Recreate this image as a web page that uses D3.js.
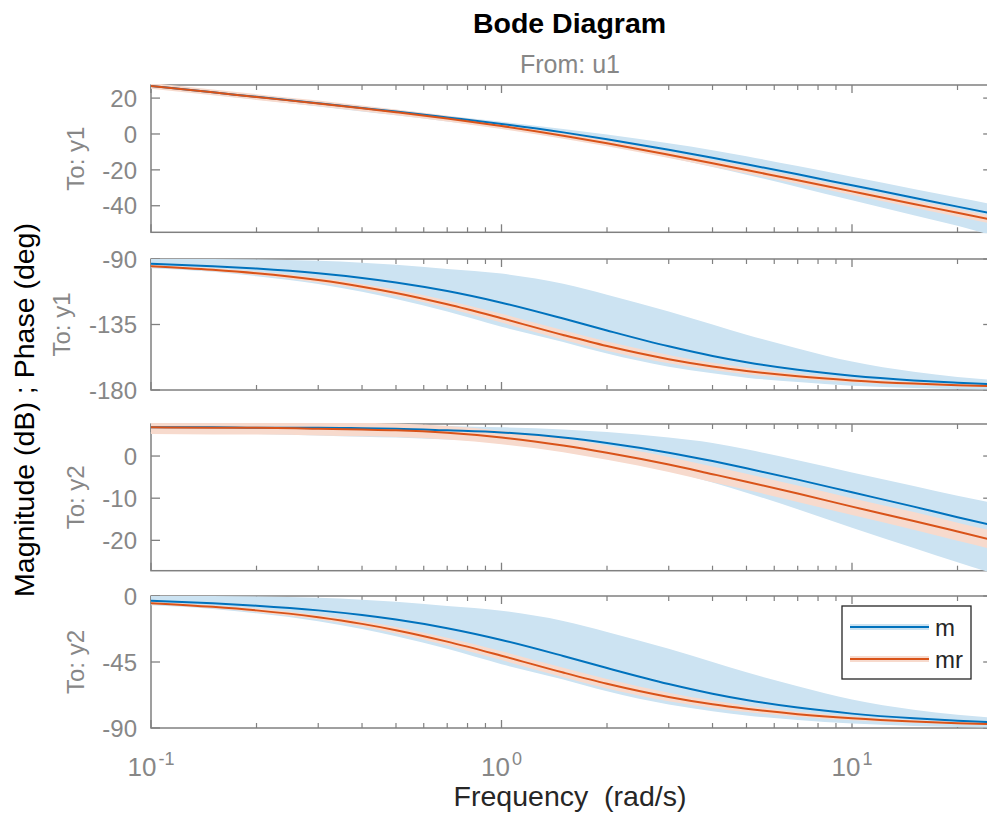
<!DOCTYPE html>
<html>
<head>
<meta charset="utf-8">
<script src="https://cdn.jsdelivr.net/npm/d3@7"></script>
<style>
  html, body { margin: 0; padding: 0; background: #fff; }
  svg { display: block; }
  text { font-family: "Liberation Sans", Arial, Helvetica, sans-serif; }
</style>
</head>
<body>
<svg id="chart" width="987" height="815"></svg>
<script>
// ---------------- data ----------------
const freq = [0.1, 0.15, 0.2, 0.3, 0.4, 0.5, 0.7, 1, 1.5, 2, 3, 4, 5, 7, 10, 15, 20, 25.12];
const xTickLabels = [{v: 0.1, base: "10", exp: "-1"}, {v: 1, base: "10", exp: "0"}, {v: 10, base: "10", exp: "1"}];
const seriesNames = ["m", "mr"];

// To: y1 magnitude (dB)
const magY1_m    = [26.8, 23.2, 20.7, 17.1, 14.5, 12.5, 9.2, 5.6, 0.9, -2.9, -8.8, -13.3, -16.9, -22.5, -28.6, -35.5, -40.5, -44.4];
const magY1_mHi  = [27.8, 24.2, 21.7, 18.1, 15.5, 13.5, 10.2, 6.8, 2.8, -0.3, -5.2, -9.0, -12.4, -17.9, -23.9, -30.6, -35.4, -39.1];
const magY1_mLo  = [25.6, 21.9, 19.2, 15.3, 12.5, 10.4, 7.0, 3.2, -2.0, -6.4, -13.1, -18.4, -22.7, -29.5, -37.0, -45.3, -51.2, -56.5];
const magY1_mr   = [26.8, 23.2, 20.6, 17.0, 14.3, 12.1, 8.6, 4.4, -1.0, -5.2, -11.6, -16.3, -20.1, -25.8, -32.0, -39.0, -43.9, -47.9];
const magY1_mrHi = [28.4, 24.8, 22.2, 18.6, 15.9, 13.7, 10.2, 6.0, 0.7, -3.5, -9.8, -14.5, -18.2, -23.9, -30.0, -36.9, -41.8, -45.7];
const magY1_mrLo = [25.2, 21.6, 19.0, 15.4, 12.7, 10.5, 7.0, 2.8, -2.7, -6.9, -13.4, -18.2, -22.0, -27.8, -34.0, -41.1, -46.1, -50.1];

// To: y1 phase (deg)
const phY1_m    = [-93.3, -95.0, -96.6, -99.8, -103.0, -106.1, -112.0, -120.0, -130.9, -139.1, -150.0, -156.6, -160.9, -166.1, -170.2, -173.4, -175.0, -176.1];
const phY1_mHi  = [-90.0, -90.0, -90.4, -91.2, -92.5, -94.0, -96.8, -100.0, -107.0, -114.5, -126.0, -135.0, -142.0, -151.5, -160.5, -167.5, -171.0, -173.0];
const phY1_mLo  = [-96.3, -98.8, -101.8, -107.2, -112.5, -117.5, -126.0, -136.5, -147.0, -155.0, -164.0, -168.5, -171.5, -174.5, -177.0, -178.6, -179.3, -179.7];
const phY1_mr   = [-94.9, -97.4, -99.8, -104.5, -109.0, -113.3, -121.1, -130.7, -142.2, -149.8, -158.8, -163.8, -166.9, -170.6, -173.4, -175.6, -176.7, -177.4];
const phY1_mrHi = [-94.1, -96.4, -98.6, -102.9, -107.1, -111.1, -118.5, -127.7, -139.0, -146.6, -155.9, -161.3, -164.7, -168.9, -172.1, -174.7, -176.0, -176.8];
const phY1_mrLo = [-95.7, -98.4, -101.0, -106.1, -110.9, -115.5, -123.7, -133.7, -145.4, -153.0, -161.7, -166.3, -169.1, -172.3, -174.7, -176.5, -177.4, -178.0];

// To: y2 magnitude (dB)
const magY2_m    = [6.8, 6.8, 6.7, 6.7, 6.6, 6.5, 6.1, 5.6, 4.4, 3.1, 0.8, -1.2, -2.9, -5.6, -8.6, -12.0, -14.5, -16.4];
const magY2_mHi  = [7.8, 7.8, 7.7, 7.7, 7.6, 7.5, 7.1, 6.8, 6.3, 5.7, 4.4, 3.1, 1.6, -1.0, -3.9, -7.1, -9.4, -11.1];
const magY2_mLo  = [5.6, 5.5, 5.2, 4.9, 4.6, 4.4, 3.9, 3.2, 1.5, -0.4, -3.5, -6.3, -8.7, -12.6, -17.0, -21.8, -25.2, -27.8];
const magY2_mr   = [6.8, 6.7, 6.7, 6.5, 6.3, 6.1, 5.5, 4.4, 2.5, 0.8, -2.0, -4.3, -6.1, -8.9, -12.0, -15.4, -17.9, -19.9];
const magY2_mrHi = [8.4, 8.3, 8.3, 8.1, 7.9, 7.7, 7.1, 6.0, 4.2, 2.5, -0.2, -2.5, -4.2, -7.0, -10.0, -13.3, -15.8, -17.7];
const magY2_mrLo = [5.2, 5.1, 5.1, 4.9, 4.7, 4.5, 3.9, 2.8, 0.9, -0.9, -3.8, -6.2, -8.0, -10.9, -14.0, -17.5, -20.1, -22.1];

// To: y2 phase (deg)
const phY2_m    = [-3.3, -5.0, -6.6, -9.8, -13.0, -16.1, -22.0, -30.0, -40.9, -49.1, -60.0, -66.6, -70.9, -76.1, -80.2, -83.4, -85.0, -86.1];
const phY2_mHi  = [0.0, 0.0, -0.4, -1.2, -2.5, -4.0, -6.8, -10.0, -17.0, -24.5, -36.0, -45.0, -52.0, -61.5, -70.5, -77.5, -81.0, -83.0];
const phY2_mLo  = [-6.3, -8.8, -11.8, -17.2, -22.5, -27.5, -36.0, -46.5, -57.0, -65.0, -74.0, -78.5, -81.5, -84.5, -87.0, -88.6, -89.3, -89.7];
const phY2_mr   = [-4.9, -7.4, -9.8, -14.5, -19.0, -23.3, -31.1, -40.7, -52.2, -59.8, -68.8, -73.8, -76.9, -80.6, -83.4, -85.6, -86.7, -87.4];
const phY2_mrHi = [-4.1, -6.4, -8.6, -12.9, -17.1, -21.1, -28.5, -37.7, -49.0, -56.6, -65.9, -71.3, -74.7, -78.9, -82.1, -84.7, -86.0, -86.8];
const phY2_mrLo = [-5.7, -8.4, -11.0, -16.1, -20.9, -25.5, -33.7, -43.7, -55.4, -63.0, -71.7, -76.3, -79.1, -82.3, -84.7, -86.5, -87.4, -88.0];

// y ticks per panel
const ticksMagY1 = [20, 0, -20, -40];
const ticksPhY1 = [-90, -135, -180];
const ticksMagY2 = [0, -10, -20];
const ticksPhY2 = [0, -45, -90];

// ---------------- layout / style ----------------
const svg = d3.select("#chart");
svg.append("rect").attr("width", 987).attr("height", 815).attr("fill", "#fff");

const X0 = 151, X1 = 992.2;
const x = d3.scaleLog().domain([0.1, Math.pow(10, 1.4)]).range([X0, X1]);

const BLUE = "#0072BD", ORANGE = "#D95319";
const BLUE_BAND = "#CCE3F2", ORANGE_BAND = "#F7DACD";
const AX = "#808080", TXT_GRAY = "#878787", DARK = "#262626";

const panels = [
  {top: 85, bottom: 232.3, domain: [-54.8, 27.3], ticks: ticksMagY1, label: "To: y1", labelX: 84,
   m: magY1_m, mHi: magY1_mHi, mLo: magY1_mLo, mr: magY1_mr, mrHi: magY1_mrHi, mrLo: magY1_mrLo},
  {top: 259, bottom: 390, domain: [-180, -90], ticks: ticksPhY1, label: "To: y1", labelX: 70,
   m: phY1_m, mHi: phY1_mHi, mLo: phY1_mLo, mr: phY1_mr, mrHi: phY1_mrHi, mrLo: phY1_mrLo},
  {top: 424, bottom: 570.7, domain: [-27.2, 7.6], ticks: ticksMagY2, label: "To: y2", labelX: 84,
   m: magY2_m, mHi: magY2_mHi, mLo: magY2_mLo, mr: magY2_mr, mrHi: magY2_mrHi, mrLo: magY2_mrLo},
  {top: 596, bottom: 728, domain: [-90, 0], ticks: ticksPhY2, label: "To: y2", labelX: 84,
   m: phY2_m, mHi: phY2_mHi, mLo: phY2_mLo, mr: phY2_mr, mrHi: phY2_mrHi, mrLo: phY2_mrLo}
];

const majorX = [0.1, 1, 10];
const minorX = [];
[0.1, 1, 10].forEach(d => { for (let k = 2; k <= 9; k++) { const v = d * k; if (v <= Math.pow(10, 1.4)) minorX.push(v); } });

const defs = svg.append("defs");

panels.forEach((p, i) => {
  const y = d3.scaleLinear().domain(p.domain).range([p.bottom, p.top]);
  const g = svg.append("g");

  // frame
  g.append("rect").attr("x", X0).attr("y", p.top).attr("width", X1 - X0).attr("height", p.bottom - p.top)
    .attr("fill", "none").attr("stroke", AX).attr("stroke-width", 1.5);

  // x ticks (top and bottom, inward)
  majorX.forEach(v => {
    const xx = x(v);
    g.append("line").attr("x1", xx).attr("x2", xx).attr("y1", p.bottom).attr("y2", p.bottom - 8).attr("stroke", AX).attr("stroke-width", 1.3);
    g.append("line").attr("x1", xx).attr("x2", xx).attr("y1", p.top).attr("y2", p.top + 8).attr("stroke", AX).attr("stroke-width", 1.3);
  });
  minorX.forEach(v => {
    const xx = x(v);
    g.append("line").attr("x1", xx).attr("x2", xx).attr("y1", p.bottom).attr("y2", p.bottom - 5).attr("stroke", AX).attr("stroke-width", 1.2);
    g.append("line").attr("x1", xx).attr("x2", xx).attr("y1", p.top).attr("y2", p.top + 5).attr("stroke", AX).attr("stroke-width", 1.2);
  });

  // y ticks (left and right, inward) + labels
  p.ticks.forEach(t => {
    const yy = y(t);
    g.append("line").attr("x1", X0).attr("x2", X0 + 9).attr("y1", yy).attr("y2", yy).attr("stroke", AX).attr("stroke-width", 1.3);
    g.append("line").attr("x1", X1).attr("x2", X1 - 9).attr("y1", yy).attr("y2", yy).attr("stroke", AX).attr("stroke-width", 1.3);
    g.append("text").attr("x", 137).attr("y", yy).attr("dy", "0.36em").attr("text-anchor", "end")
      .attr("font-size", 24).attr("fill", TXT_GRAY).text(t);
  });

  // "To:" label
  g.append("text").attr("transform", `translate(${p.labelX},${(p.top + p.bottom) / 2}) rotate(-90)`)
    .attr("text-anchor", "middle").attr("font-size", 24).attr("fill", TXT_GRAY).text(p.label);

  // clip
  defs.append("clipPath").attr("id", "clip" + i).append("rect")
    .attr("x", X0 - 1).attr("y", p.top - 1).attr("width", X1 - X0 + 2).attr("height", p.bottom - p.top + 2);
  const dg = g.append("g").attr("clip-path", `url(#clip${i})`);

  const area = (lo, hi) => d3.area().x((d, j) => x(freq[j])).y0((d, j) => y(lo[j])).y1((d, j) => y(hi[j])).curve(d3.curveMonotoneX)(freq);
  const line = (arr) => d3.line().x((d, j) => x(freq[j])).y((d, j) => y(arr[j])).curve(d3.curveMonotoneX)(freq);

  dg.append("path").attr("d", area(p.mLo, p.mHi)).attr("fill", BLUE_BAND);
  dg.append("path").attr("d", area(p.mrLo, p.mrHi)).attr("fill", ORANGE_BAND);
  dg.append("path").attr("d", line(p.m)).attr("fill", "none").attr("stroke", BLUE).attr("stroke-width", 2);
  dg.append("path").attr("d", line(p.mr)).attr("fill", "none").attr("stroke", ORANGE).attr("stroke-width", 2);

  // x tick labels under the last panel
  if (i === panels.length - 1) {
    xTickLabels.forEach(t => {
      const tx = g.append("text").attr("x", x(t.v)).attr("y", p.bottom + 48).attr("text-anchor", "middle")
        .attr("font-size", 26).attr("fill", TXT_GRAY);
      tx.append("tspan").text(t.base);
      tx.append("tspan").attr("dy", -11).attr("dx", 2).attr("font-size", 18).text(t.exp);
    });
  }
});

// legend
const lg = svg.append("g");
lg.append("rect").attr("x", 842).attr("y", 606).attr("width", 129).attr("height", 73)
  .attr("fill", "#fff").attr("stroke", DARK).attr("stroke-width", 1.3);
const legItems = [{name: seriesNames[0], c: BLUE, b: BLUE_BAND, y: 627}, {name: seriesNames[1], c: ORANGE, b: ORANGE_BAND, y: 659}];
legItems.forEach(it => {
  lg.append("line").attr("x1", 850).attr("x2", 929).attr("y1", it.y).attr("y2", it.y).attr("stroke", it.b).attr("stroke-width", 6);
  lg.append("line").attr("x1", 850).attr("x2", 929).attr("y1", it.y).attr("y2", it.y).attr("stroke", it.c).attr("stroke-width", 2);
  lg.append("text").attr("x", 935).attr("y", it.y).attr("dy", "0.36em").attr("font-size", 24).attr("fill", DARK).text(it.name);
});

// titles and axis labels
svg.append("text").attr("x", 569.5).attr("y", 33).attr("text-anchor", "middle").attr("font-size", 28.5)
  .attr("font-weight", "bold").attr("fill", "#000").text("Bode Diagram");
svg.append("text").attr("x", 570).attr("y", 73).attr("text-anchor", "middle").attr("font-size", 25)
  .attr("fill", TXT_GRAY).text("From: u1");
svg.append("text").attr("x", 570).attr("y", 806).attr("text-anchor", "middle").attr("font-size", 28.5)
  .attr("fill", DARK).attr("xml:space", "preserve").text("Frequency  (rad/s)");
svg.append("text").attr("transform", "translate(33.5,410) rotate(-90)").attr("text-anchor", "middle").attr("font-size", 28.5)
  .attr("fill", "#000").text("Magnitude (dB) ; Phase (deg)");
</script>
</body>
</html>
